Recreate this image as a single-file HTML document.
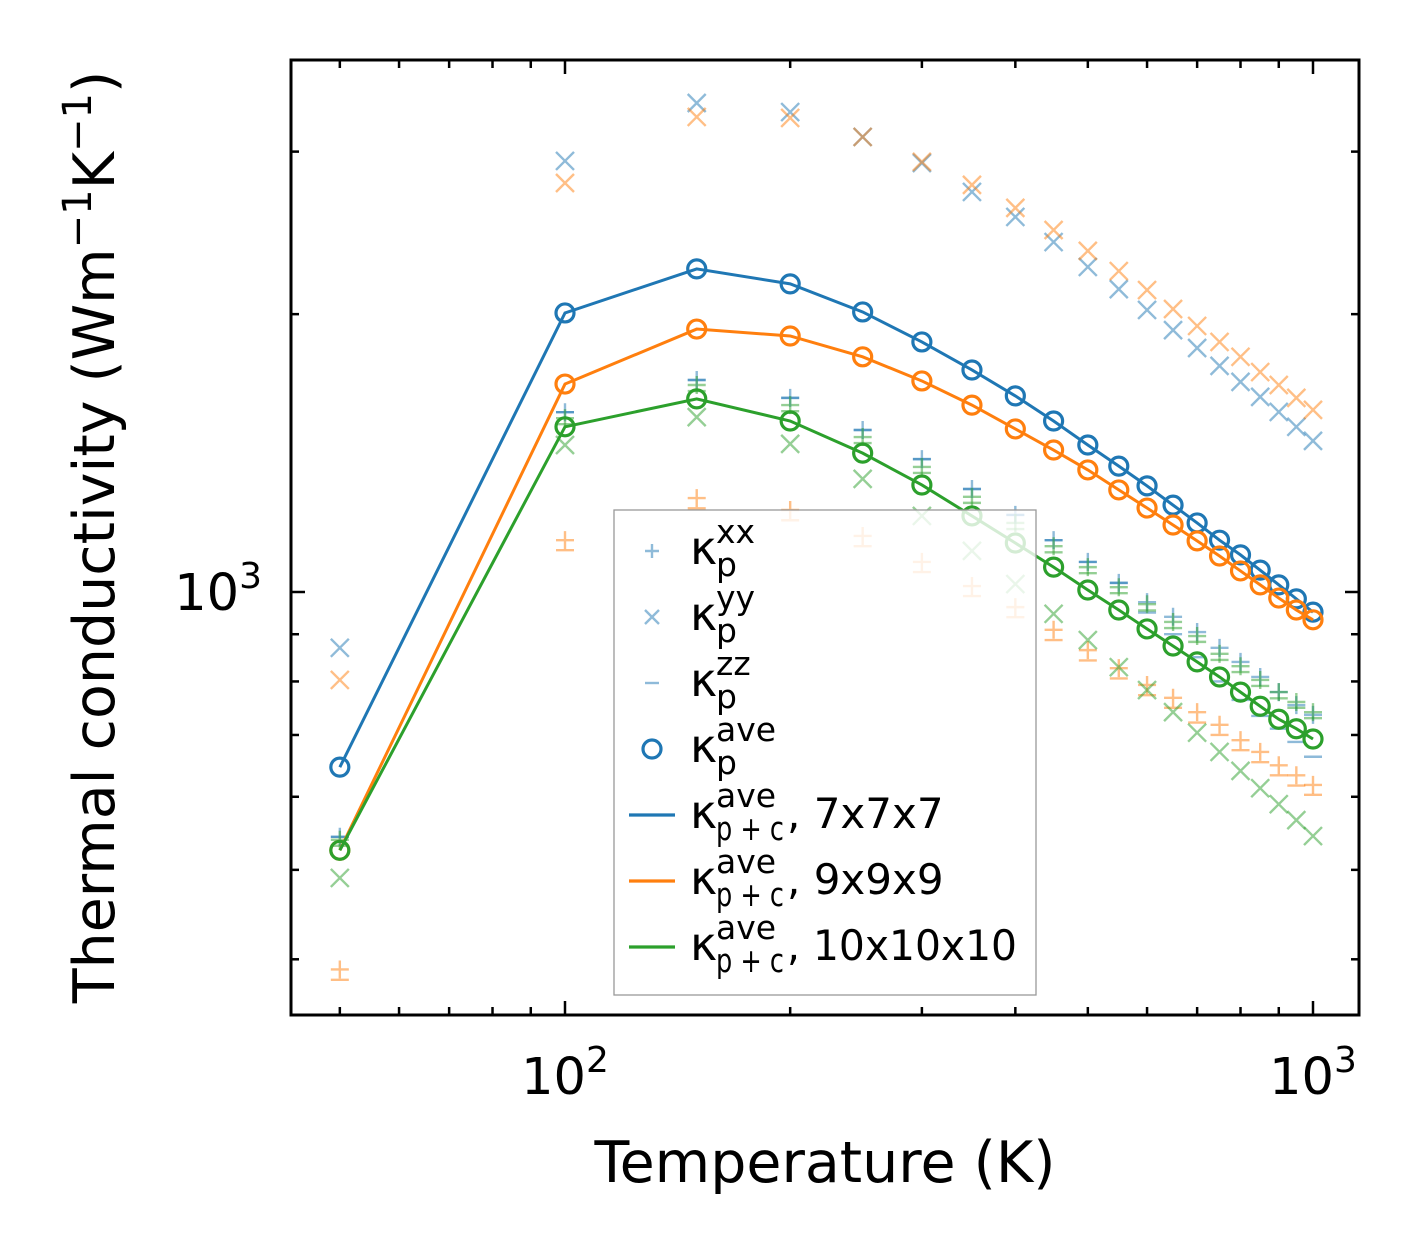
<!DOCTYPE html>
<html><head><meta charset="utf-8"><style>
body{margin:0;background:#fff}
svg{display:block;font-family:"DejaVu Sans","Liberation Sans",sans-serif}
</style></head><body>
<svg id="chart" width="1421" height="1254" viewBox="0 0 1421 1254" xmlns="http://www.w3.org/2000/svg">
<rect x="0" y="0" width="1421" height="1254" fill="#fff"/>
<g id="marks"></g>
<g id="legend"></g>
<g id="axes"></g>
<text x="825" y="1182" font-size="57" text-anchor="middle">Temperature (K)</text>
<text transform="translate(114,537) rotate(-90)" font-size="57" text-anchor="middle">Thermal conductivity (Wm<tspan font-size="40" dy="-23">−1</tspan><tspan dy="23">K</tspan><tspan font-size="40" dy="-23">−1</tspan><tspan dy="23">)</tspan></text>
</svg>
<script>
const temps=[50,100,150,200,250,300,350,400,450,500,550,600,650,700,750,800,850,900,950,1000];
// 7x7x7
const bXX=[543,1566,1697,1623,1498,1393,1293,1212,1138,1078,1023,975,940,905,870,840,809,779,754,736];
const bYY=[870,2931,3387,3311,3112,2916,2713,2549,2394,2250,2129,2021,1922,1838,1758,1689,1627,1567,1510,1458];
const bZZ=[543,1566,1697,1623,1498,1393,1293,1212,1138,1078,1023,950,900,850,800,764,734,711,688,663];
const bAve=[646,2006,2239,2157,2011,1866,1740,1631,1532,1443,1369,1303,1242,1188,1138,1097,1056,1018,983,951];
// 9x9x9
const oXX=[390,1138,1264,1227,1150,1078,1015,963,910,865,827,793,768,741,718,691,671,649,633,618];
const oYY=[803,2774,3271,3263,3112,2924,2761,2607,2467,2342,2227,2124,2026,1942,1866,1798,1731,1676,1623,1575];
const oZZ=[380,1110,1232,1196,1121,1051,990,939,887,843,806,773,749,722,700,674,654,633,617,603];
const oAve=[525,1680,1927,1894,1798,1693,1594,1502,1425,1356,1290,1233,1182,1136,1094,1054,1018,985,956,933];
// 10x10x10
const gXX=[539,1543,1676,1594,1472,1366,1268,1188,1121,1064,1012,970,928,896,857,831,803,779,760,741];
const gYY=[490,1443,1547,1447,1326,1209,1108,1020,947,887,829,783,741,704,671,640,613,589,566,544];
const gZZ=[531,1520,1651,1570,1450,1346,1249,1170,1104,1048,997,955,914,883,844,819,791,767,749,730];
const gAve=[525,1510,1619,1532,1414,1306,1209,1130,1064,1005,956,912,874,840,809,779,752,728,711,693];
const xMajor=[100,1000];
const xMinor=[50,60,70,80,90,200,300,400,500,600,700,800,900];
const yMajor=[1000];
const yMinor=[400,500,600,700,800,900,2000,3000];

const L=291,R=1359,T=60,B=1015;
const xs=v=>565+(Math.log10(v)-2)*748;
const ys=v=>592-(Math.log10(v)-3)*923;
const NS='http://www.w3.org/2000/svg';
function mk(tag,parent){const e=document.createElementNS(NS,tag);parent.appendChild(e);return e;}
const C={b:'#1f77b4',o:'#ff7f0e',g:'#2ca02c'};
const marks=document.getElementById('marks');

function plusM(g,x,y,c,s){const p=mk('path',g);p.setAttribute('d',`M${x-s} ${y}H${x+s}M${x} ${y-s}V${y+s}`);p.setAttribute('stroke',c);p.setAttribute('stroke-width',2.4);p.setAttribute('opacity',0.5);p.setAttribute('fill','none');return p;}
function xM(g,x,y,c,s){const p=mk('path',g);p.setAttribute('d',`M${x-s} ${y-s}L${x+s} ${y+s}M${x-s} ${y+s}L${x+s} ${y-s}`);p.setAttribute('stroke',c);p.setAttribute('stroke-width',2.4);p.setAttribute('opacity',0.5);p.setAttribute('fill','none');return p;}
function hM(g,x,y,c,s){const p=mk('path',g);p.setAttribute('d',`M${x-s} ${y}H${x+s}`);p.setAttribute('stroke',c);p.setAttribute('stroke-width',2.4);p.setAttribute('opacity',0.5);return p;}

function scatter(arr,fn,c,name){
  const g=mk('g',marks);
  
  
  arr.forEach((v,i)=>{const p=fn(g,xs(temps[i]),ys(v),c,9);
    
    });
}
scatter(bXX,plusM,C.b,'blue-xx');scatter(bYY,xM,C.b,'blue-yy');scatter(bZZ,hM,C.b,'blue-zz');
scatter(oXX,plusM,C.o,'orange-xx');scatter(oYY,xM,C.o,'orange-yy');scatter(oZZ,hM,C.o,'orange-zz');
scatter(gXX,plusM,C.g,'green-xx');scatter(gYY,xM,C.g,'green-yy');scatter(gZZ,hM,C.g,'green-zz');

function lineSeries(arr,c,name){
  const g=mk('g',marks);
  
  
  const pl=mk('polyline',g);
  
  
  pl.setAttribute('points',arr.map((v,i)=>xs(temps[i])+','+ys(v)).join(' '));
  pl.setAttribute('fill','none');pl.setAttribute('stroke',c);pl.setAttribute('stroke-width',3);
  arr.forEach((v,i)=>{const ci=mk('circle',g);
    
    
    ci.setAttribute('cx',xs(temps[i]));ci.setAttribute('cy',ys(v));ci.setAttribute('r',9);
    ci.setAttribute('fill','none');ci.setAttribute('stroke',c);ci.setAttribute('stroke-width',3.2);});
}
lineSeries(bAve,C.b,'ave-7x7x7');lineSeries(oAve,C.o,'ave-9x9x9');lineSeries(gAve,C.g,'ave-10x10x10');

// legend
const lg=document.getElementById('legend');
const box=mk('rect',lg);


box.setAttribute('x',614);box.setAttribute('y',510);box.setAttribute('width',422);box.setAttribute('height',485);
box.setAttribute('fill','#fff');box.setAttribute('fill-opacity',0.8);box.setAttribute('stroke','#999');box.setAttribute('stroke-width',1.3);
const entries=[['+','xx'],['x','yy'],['-','zz'],['o','ave'],['lb','ave',', 7x7x7'],['lo','ave',', 9x9x9'],['lg','ave',', 10x10x10']];
function txt(g,x,y,fs,s){const t=mk('text',g);t.setAttribute('x',x);t.setAttribute('y',y);t.setAttribute('font-size',fs);t.textContent=s;
  return t;}
entries.forEach((e,i)=>{
  const cy=547+i*66;
  const g=mk('g',lg);
  
  
  const mx=652;
  const my=cy+4;
  if(e[0]=='+')plusM(g,mx,my,C.b,7);
  else if(e[0]=='x')xM(g,mx,my,C.b,7);
  else if(e[0]=='-')hM(g,mx,my,C.b,7);
  else if(e[0]=='o'){const c=mk('circle',g);c.setAttribute('cx',mx);c.setAttribute('cy',my);c.setAttribute('r',9);c.setAttribute('fill','none');c.setAttribute('stroke',C.b);c.setAttribute('stroke-width',3.2);}
  else{const l=mk('line',g);l.setAttribute('x1',629);l.setAttribute('x2',675);l.setAttribute('y1',my);l.setAttribute('y2',my);
    l.setAttribute('stroke',e[0]=='lb'?C.b:e[0]=='lo'?C.o:C.g);l.setAttribute('stroke-width',3.2);}
  txt(g,690,cy+17,46,'κ');
  txt(g,716,cy-4,33,e[1]);
  if(e[0].startsWith('l')){
    const s=txt(g,716,cy+29,33,'p + c');
    s.setAttribute('textLength',68);s.setAttribute('lengthAdjust','spacingAndGlyphs');
    const t2=txt(g,787,cy+17,42,e[2]);
    if(e[2].length>8){t2.setAttribute('textLength',230);t2.setAttribute('lengthAdjust','spacingAndGlyphs');}
  } else txt(g,716,cy+29,33,'p');
});

// axes
const ax=document.getElementById('axes');
const fr=mk('rect',ax);


fr.setAttribute('x',L);fr.setAttribute('y',T);fr.setAttribute('width',R-L);fr.setAttribute('height',B-T);
fr.setAttribute('fill','none');fr.setAttribute('stroke','#000');fr.setAttribute('stroke-width',3);
function tick(x1,y1,x2,y2){const l=mk('line',ax);l.setAttribute('x1',x1);l.setAttribute('y1',y1);l.setAttribute('x2',x2);l.setAttribute('y2',y2);l.setAttribute('stroke','#000');l.setAttribute('stroke-width',2.5);
  }
xMajor.forEach(v=>{const x=xs(v);tick(x,B,x,B-14);tick(x,T,x,T+14);
  const t=mk('text',ax);
  t.setAttribute('x',x);t.setAttribute('y',1094);t.setAttribute('font-size',51);t.setAttribute('text-anchor','middle');
  t.innerHTML='10<tspan font-size="36" dy="-22">'+Math.round(Math.log10(v))+'</tspan>';});
xMinor.forEach(v=>{const x=xs(v);tick(x,B,x,B-8);tick(x,T,x,T+8);});
yMajor.forEach(v=>{const y=ys(v);tick(L,y,L+14,y);tick(R,y,R-14,y);
  const t=mk('text',ax);
  t.setAttribute('x',262);t.setAttribute('y',y+18);t.setAttribute('font-size',51);t.setAttribute('text-anchor','end');
  t.innerHTML='10<tspan font-size="36" dy="-22">'+Math.round(Math.log10(v))+'</tspan>';});
yMinor.forEach(v=>{const y=ys(v);tick(L,y,L+8,y);tick(R,y,R-8,y);});
</script>
</body></html>
